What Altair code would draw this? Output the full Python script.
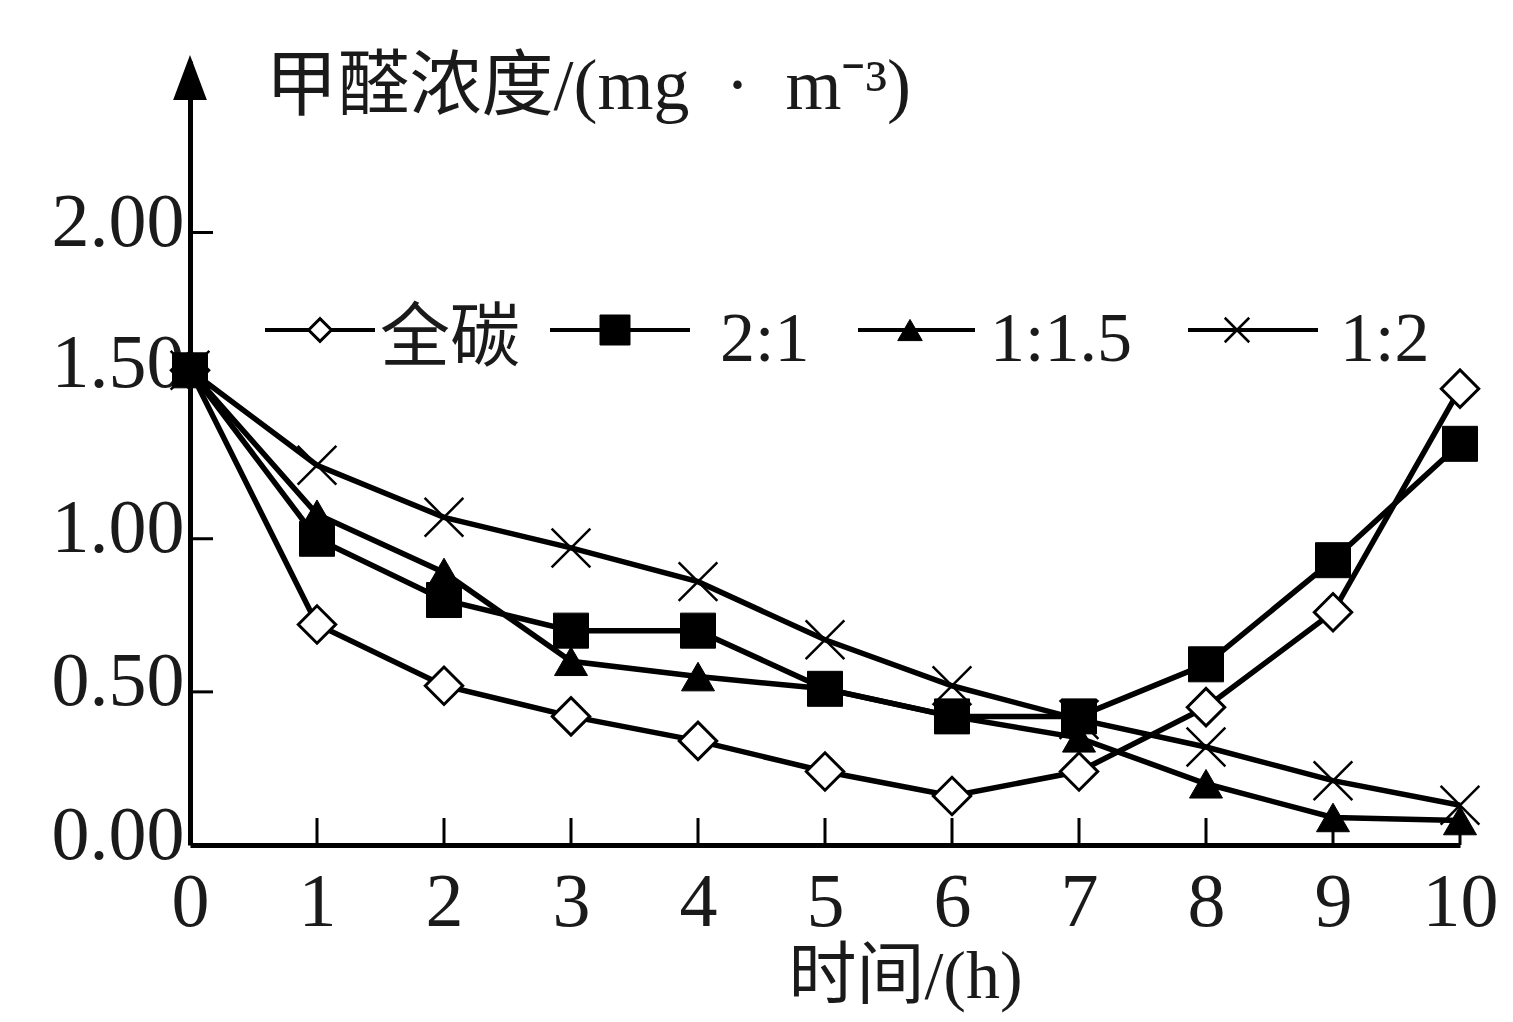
import altair as alt
import pandas as pd

# ---- data ----
hours = list(range(11))
series_names = ["全碳", "2:1", "1:1.5", "1:2"]
quan_tan = [1.55, 0.72, 0.52, 0.42, 0.34, 0.24, 0.16, 0.24, 0.45, 0.76, 1.49]
ratio_2_1 = [1.55, 1.00, 0.80, 0.70, 0.70, 0.51, 0.42, 0.42, 0.59, 0.93, 1.31]
ratio_1_15 = [1.55, 1.08, 0.89, 0.60, 0.55, 0.51, 0.42, 0.35, 0.20, 0.09, 0.08]
ratio_1_2 = [1.55, 1.24, 1.07, 0.97, 0.86, 0.67, 0.52, 0.41, 0.32, 0.21, 0.13]
values_by_series = [quan_tan, ratio_2_1, ratio_1_15, ratio_1_2]

x_tick_values = list(range(1, 11))
y_tick_values = [0.5, 1.0, 1.5, 2.0]
y_label_values = [0.0, 0.5, 1.0, 1.5, 2.0]

y_title = "甲醛浓度/(mg\u2002·\u2002m⁻³)"
x_title = "时间/(h)"

# ---- layout / style ----
W, H = 1270, 784
SERIF = "'Liberation Serif', 'Noto Sans CJK SC'"
INK = "#1a1a1a"

xscale = alt.Scale(domain=[0, 10], nice=False, zero=False)
yscale = alt.Scale(domain=[0, 2.56], nice=False, zero=True)

xaxis = alt.Axis(values=hours, format="d", labelFlush=False, ticks=False, tickSize=0,
                 grid=False, domainWidth=5, domainColor="black",
                 labelFont=SERIF, labelFontSize=76, labelColor=INK,
                 labelPadding=80, labelBaseline="alphabetic",
                 title=x_title, titleFont=SERIF, titleFontSize=68, titleFontWeight="normal",
                 titleColor=INK, titleX=715, titleY=152, titleAlign="center",
                 titleBaseline="alphabetic")
yaxis = alt.Axis(values=y_label_values, format=".2f", ticks=False, tickSize=0,
                 grid=False, domainWidth=5, domainColor="black",
                 labelFont=SERIF, labelFontSize=76, labelColor=INK,
                 labelPadding=6, labelBaseline="middle",
                 labelOffset={"condition": {"test": "datum.value == 1.5", "value": -22},
                              "value": -10},
                 title=y_title, titleFont=SERIF, titleFontSize=72, titleFontWeight="normal",
                 titleColor=INK, titleAngle=0, titleX=75, titleY=47, titleAlign="left",
                 titleBaseline="alphabetic")

x_enc = alt.X("hour:Q", scale=xscale, axis=xaxis)
y_enc = alt.Y("value:Q", scale=yscale, axis=yaxis)

X_PATH = "M-1,-1L1,1M-1,1L1,-1"
styles = [
    dict(shape="diamond", fill="white", sw=3, size=1400, lsize=520),
    dict(shape="square", fill="black", sw=1, size=1225, lsize=900),
    dict(shape="triangle-up", fill="black", sw=1, size=1089, lsize=600),
    dict(shape=X_PATH, fill=None, sw=2.5, size=1500, lsize=600),
]
legend_line_x1 = [75, 360, 668, 998]
legend_line_x2 = [185, 500, 785, 1128]
legend_marker_x = [130, 425, 720, 1047]
legend_text_x = [190, 530, 800, 1150]

layers = []
frames = []
for name, vals in zip(series_names, values_by_series):
    frames.append(pd.DataFrame({"hour": hours, "value": vals, "series": name}))

# axis ticks (inward)
xt = pd.DataFrame({"hour": x_tick_values})
layers.append(alt.Chart(xt).mark_rule(color="black", strokeWidth=3).encode(
    x=x_enc, y=alt.value(H - 27), y2=alt.value(H)))
yt = pd.DataFrame({"value": y_tick_values})
layers.append(alt.Chart(yt).mark_rule(color="black", strokeWidth=3).encode(
    y=y_enc, x=alt.value(0), x2=alt.value(23)))

# lines
for df in frames:
    layers.append(alt.Chart(df).mark_line(color="black", strokeWidth=5.5).encode(x=x_enc, y=y_enc))

# markers (order: diamonds, triangles, crosses, squares on top)
for i in [0, 2, 3, 1]:
    st = styles[i]
    if st["fill"] is None:
        mk = alt.Chart(frames[i]).mark_point(shape=st["shape"], filled=False, stroke="black",
                                             strokeWidth=st["sw"], size=st["size"], opacity=1)
    else:
        mk = alt.Chart(frames[i]).mark_point(shape=st["shape"], filled=True, fill=st["fill"],
                                             stroke="black", strokeWidth=st["sw"],
                                             size=st["size"], opacity=1)
    layers.append(mk.encode(x=x_enc, y=y_enc))

# legend
leg = pd.DataFrame({"name": series_names, "x1": legend_line_x1, "x2": legend_line_x2,
                    "mx": legend_marker_x, "tx": legend_text_x})
layers.append(alt.Chart(leg).mark_rule(color="black", strokeWidth=4).encode(
    x=alt.X("x1:Q", scale=None, axis=None), x2="x2:Q", y=alt.value(269)))
for i in range(4):
    st = styles[i]
    row = leg.iloc[[i]]
    if st["fill"] is None:
        mk = alt.Chart(row).mark_point(shape=st["shape"], filled=False, stroke="black",
                                       strokeWidth=st["sw"], size=st["lsize"], opacity=1)
    else:
        mk = alt.Chart(row).mark_point(shape=st["shape"], filled=True, fill=st["fill"],
                                       stroke="black", strokeWidth=st["sw"],
                                       size=st["lsize"], opacity=1)
    layers.append(mk.encode(x=alt.X("mx:Q", scale=None, axis=None), y=alt.value(269)))
layers.append(alt.Chart(leg).mark_text(align="left", baseline="alphabetic", font=SERIF,
                                       fontSize=70, color=INK).encode(
    x=alt.X("tx:Q", scale=None, axis=None), y=alt.value(300), text="name:N"))

# y-axis arrow head
arrow = pd.DataFrame({"a": [0]})
layers.append(alt.Chart(arrow).mark_point(shape="M0,-1L-0.75,1L0.75,1Z", filled=True,
                                          color="black", size=2025, opacity=1).encode(
    x=alt.value(0), y=alt.value(16.5)))

chart = alt.layer(*layers).properties(
    width=W, height=H,
    padding={"left": 182, "top": 53, "right": 45, "bottom": 168},
    autosize=alt.AutoSizeParams(type="none"),
).configure_view(stroke=None)

chart.save("out.html", embed_options={"renderer": "svg", "actions": False})
